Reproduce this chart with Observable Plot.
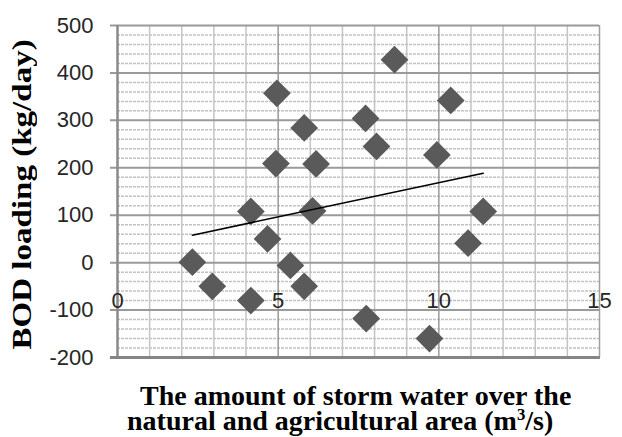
<!DOCTYPE html>
<html>
<head>
<meta charset="utf-8">
<script src="https://cdn.jsdelivr.net/npm/d3@7"></script>
<script src="https://cdn.jsdelivr.net/npm/@observablehq/plot@0.6"></script>
<style>
  html, body { margin: 0; padding: 0; background: #fff; }
  #wrap { position: relative; width: 622px; height: 437px; overflow: hidden; }
  #chart { position: absolute; left: 0; top: 0; }
  .title { position: absolute; font-family: "Liberation Serif", "Times New Roman", serif; font-weight: bold; font-size: 28px; line-height: 25px; color: #000; white-space: nowrap; }
  #ytitle { left: 8px; top: 30px; width: 28px; height: 330px; line-height: 28px; text-align: center; writing-mode: vertical-rl; transform: rotate(180deg) scaleY(1.18); transform-origin: 50% 50%; }
  #xtitle { left: 127px; top: 383px; }
  #xtitle .l1 { padding-left: 13px; }
  sup { font-size: 0.6em; line-height: 0; vertical-align: 0.6em; }
</style>
</head>
<body>
<div id="wrap">
  <div id="chart"></div>
  <div class="title" id="ytitle">BOD loading (kg/day)</div>
  <div class="title" id="xtitle"><span class="l1">The amount of storm water over the</span><br>natural and agricultural area (m<sup>3</sup>/s)</div>
</div>
<script>
// Storm water (m3/s)
const stormWater = [2.33, 2.95, 4.15, 4.15, 4.67, 4.96, 4.93, 5.38, 5.81, 5.81, 6.18, 6.07, 7.72, 7.74, 8.06, 8.62, 9.71, 9.94, 10.37, 10.91, 11.38];
// BOD loading (kg/day)
const bodLoading = [1, -50, 108, -80, 50, 357, 209, -6, 284, -50, 208, 109, 304, -118, 245, 428, -160, 227, 342, 41, 108];

const yTicks = [-200, -100, 0, 100, 200, 300, 400, 500];
const xTicks = [0, 5, 10, 15];
const yMinor = d3.range(-200, 501, 20).filter(v => v % 100 !== 0);
const xMinor = d3.range(1, 15).filter(v => v % 5 !== 0);

const data = stormWater.map((x, i) => ({x, y: bodLoading[i]}));

const chart = Plot.plot({
  width: 622,
  height: 437,
  marginLeft: 117,
  marginRight: 23,
  marginTop: 25,
  marginBottom: 80,
  style: {fontFamily: "'Liberation Sans', Arial, sans-serif", fontSize: "22px", background: "transparent"},
  x: {domain: [0, 15], axis: null},
  y: {domain: [-200, 500], label: null},
  marks: [
    Plot.ruleY(yMinor, {stroke: "#c2c2c2", strokeWidth: 1.5, strokeDasharray: "3,1"}),
    Plot.ruleX(xMinor, {stroke: "#c4c4c4", strokeWidth: 1.5}),
    Plot.ruleY(yTicks.filter(v => v > -200), {x1: -0.22, x2: 15, stroke: "#9a9a9a", strokeWidth: 2}),
    Plot.ruleX([5, 10], {stroke: "#999", strokeWidth: 1.5}),
    Plot.ruleX([15], {stroke: "#a0a0a0", strokeWidth: 1.5}),
    Plot.ruleX([0], {stroke: "#8a8a8a", strokeWidth: 2.5}),
    Plot.ruleY([-200], {x1: -0.22, x2: 15.03, stroke: "#858585", strokeWidth: 3}),
    Plot.dot(data, {x: "x", y: "y", symbol: "diamond2", r: 12.5, fill: "#5a5a5a"}),
    Plot.linearRegressionY(data, {x: "x", y: "y", ci: 0, stroke: "#000", strokeWidth: 1.5}),
    Plot.axisY(yTicks, {tickSize: 0, tickPadding: 24, label: null, tickFormat: d => String(d), fill: "#262626", fontSize: 22}),
    Plot.text(xTicks, {x: d => d, y: -80, text: d => String(d), fill: "#262626", fontSize: 22})
  ]
});
document.getElementById("chart").appendChild(chart);
</script>
</body>
</html>
